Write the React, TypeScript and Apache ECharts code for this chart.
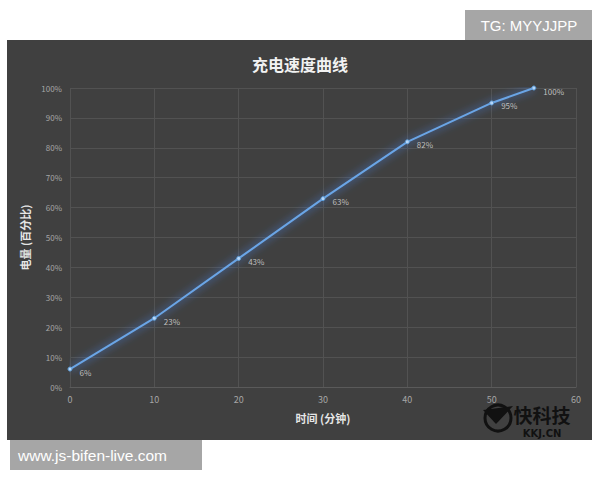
import React, { useEffect, useRef } from "react";
import * as echarts from "echarts";

const minutes = [0, 10, 20, 30, 40, 50, 55];
const battery = [6, 23, 43, 63, 82, 95, 100];
const title = "充电速度曲线";
const xName = "时间 (分钟)";
const yName = "电量 (百分比)";

export default function App() {
  const ref = useRef<HTMLDivElement>(null);
  useEffect(() => {
    if (!ref.current) return;
    const chart = echarts.init(ref.current, undefined, { renderer: "svg" });
    const font = "'Noto Sans CJK SC', 'Noto Sans', sans-serif";
    chart.setOption({
      animation: false,
      backgroundColor: "#ffffff",
      textStyle: { fontFamily: font },
      title: {
        text: title,
        left: "center",
        top: 51,
        textStyle: { color: "#f2f2f2", fontSize: 16, fontWeight: "bold", fontFamily: font },
      },
      grid: { left: 70, right: 24, top: 88, bottom: 93 },
      xAxis: {
        type: "value",
        min: 0,
        max: 60,
        interval: 10,
        name: xName,
        nameLocation: "middle",
        nameGap: 25,
        nameTextStyle: { color: "#e6e6e6", fontSize: 11, fontWeight: "bold" },
        axisLine: { show: true, lineStyle: { color: "#5a5a5a" } },
        axisTick: { show: false },
        axisLabel: { color: "#a6a6a6", fontSize: 9, margin: 8 },
        splitLine: { show: true, lineStyle: { color: "#525252" } },
      },
      yAxis: {
        type: "value",
        min: 0,
        max: 100,
        interval: 10,
        name: yName,
        nameLocation: "middle",
        nameGap: 34,
        nameRotate: 90,
        nameTextStyle: { color: "#e6e6e6", fontSize: 11, fontWeight: "bold" },
        axisLine: { show: false },
        axisTick: { show: false },
        axisLabel: { color: "#a6a6a6", fontSize: 8, formatter: "{value}%", margin: 8 },
        splitLine: { show: true, lineStyle: { color: "#525252" } },
      },
      series: [
        {
          type: "line",
          data: minutes.map((m, i) => [m, battery[i]]),
          symbol: "circle",
          symbolSize: 4,
          itemStyle: { color: "#b5d6fa", borderColor: "#5b9bd5", borderWidth: 1 },
          lineStyle: {
            color: "#6aa5e6",
            width: 2,
            shadowColor: "rgba(70,140,255,1)",
            shadowBlur: 8,
          },
          label: {
            show: true,
            position: "right",
            offset: [2, 3],
            formatter: (p: any) => p.value[1] + "%",
            color: "#bfbfbf",
            fontSize: 8,
          },
          z: 5,
        },
      ],
      graphic: [
        { type: "rect", z: -10, shape: { x: 7, y: 40, width: 585, height: 400 }, style: { fill: "#404040" } },
        { type: "rect", z: 10, shape: { x: 465, y: 10, width: 127, height: 30 }, style: { fill: "#a6a6a6" } },
        {
          type: "text",
          z: 11,
          x: 529,
          y: 25,
          style: { text: "TG: MYYJJPP", fill: "#ffffff", fontSize: 15, fontFamily: "'Liberation Sans', Arial, sans-serif", align: "center", verticalAlign: "middle" },
        },
        { type: "rect", z: 10, shape: { x: 10, y: 440, width: 192, height: 30 }, style: { fill: "#a6a6a6" } },
        {
          type: "text",
          z: 11,
          x: 18,
          y: 455,
          style: { text: "www.js-bifen-live.com", fill: "#ffffff", fontSize: 15.5, fontFamily: "'Liberation Sans', Arial, sans-serif", align: "left", verticalAlign: "middle" },
        },
        { type: "circle", z: 10, shape: { cx: 498, cy: 418, r: 13 }, style: { fill: "none", stroke: "#111111", lineWidth: 3 } },
        { type: "polygon", z: 10, shape: { points: [[483, 410], [513, 406], [496, 424]] }, style: { fill: "#111111" } },
        {
          type: "text",
          z: 11,
          x: 542,
          y: 414,
          style: { text: "快科技", fill: "#111111", fontSize: 19, fontWeight: "bold", fontFamily: font, align: "center", verticalAlign: "middle" },
        },
        {
          type: "text",
          z: 11,
          x: 542,
          y: 433,
          style: { text: "KKJ.CN", fill: "#111111", fontSize: 10, fontWeight: "bold", fontFamily: "'DejaVu Sans', sans-serif", align: "center", verticalAlign: "middle" },
        },
      ],
    });
    return () => chart.dispose();
  }, []);
  return <div ref={ref} style={{ position: "fixed", left: 0, top: 0, width: 600, height: 480 }} />;
}
